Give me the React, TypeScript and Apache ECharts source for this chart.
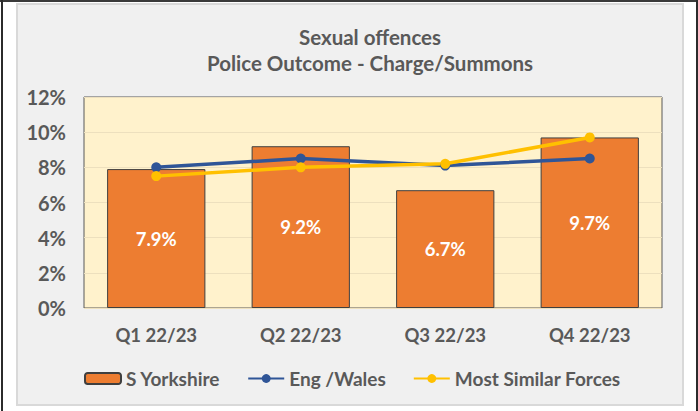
import React, { useEffect, useRef } from 'react';
import * as echarts from 'echarts';

const categories = ['Q1 22/23', 'Q2 22/23', 'Q3 22/23', 'Q4 22/23'];
const sYorkshire = [7.9, 9.2, 6.7, 9.7];
const engWales = [8.0, 8.5, 8.1, 8.5];
const mostSimilar = [7.5, 8.0, 8.2, 9.7];
const titleLines = ['Sexual offences', 'Police Outcome - Charge/Summons'];
const seriesNames = ['S Yorkshire', 'Eng /Wales', 'Most Similar Forces'];

const FONT = 'Lato, "Open Sans", sans-serif';
const GREY = '#595959';

export default function App() {
  const ref = useRef<HTMLDivElement>(null);
  useEffect(() => {
    if (!ref.current) return;
    const chart = echarts.init(ref.current, undefined, { renderer: 'svg' });
    chart.setOption({
      animation: false,
      backgroundColor: '#ffffff',
      textStyle: { fontFamily: FONT },
      graphic: [
        { type: 'rect', z: -20, shape: { x: 0, y: 0, width: 698, height: 2 }, style: { fill: '#3a3a3a' } },
        { type: 'rect', z: -20, shape: { x: 1, y: 0, width: 2, height: 411 }, style: { fill: '#2b2b2b' } },
        { type: 'rect', z: -20, shape: { x: 696, y: 0, width: 2, height: 411 }, style: { fill: '#2b2b2b' } },
        { type: 'rect', z: -19, shape: { x: 17, y: 4, width: 666, height: 401 }, style: { fill: '#F0F0F0', stroke: '#D9D9D9', lineWidth: 2 } },
        { type: 'text', z: 10, x: 370, y: 37, style: { text: titleLines[0], fontFamily: FONT, fontSize: 20.5, fontWeight: 'bold', fill: GREY, textAlign: 'center', textVerticalAlign: 'middle' } },
        { type: 'text', z: 10, x: 370, y: 63, style: { text: titleLines[1], fontFamily: FONT, fontSize: 20.5, fontWeight: 'bold', fill: GREY, textAlign: 'center', textVerticalAlign: 'middle' } },
      ],
      grid: {
        left: 84, top: 97, right: 36, bottom: 103,
        show: true, backgroundColor: '#FFF2CC', borderColor: '#595959', borderWidth: 1,
      },
      legend: {
        top: 369,
        left: 84,
        padding: 0,
        itemWidth: 36,
        itemHeight: 11,
        itemGap: 27,
        textStyle: { fontFamily: FONT, fontSize: 19, fontWeight: 'bold', color: GREY },
        data: seriesNames,
      },
      xAxis: {
        type: 'category',
        data: categories,
        axisLine: { show: false },
        axisTick: { show: false },
        axisLabel: { color: GREY, fontFamily: FONT, fontSize: 18.5, fontWeight: 'bold', margin: 17 },
      },
      yAxis: {
        type: 'value',
        min: 0, max: 12, interval: 2,
        axisLine: { show: false },
        axisTick: { show: false },
        splitLine: { lineStyle: { color: '#EDE0BE', width: 1 } },
        axisLabel: { color: GREY, fontFamily: FONT, fontSize: 20, fontWeight: 'bold', margin: 18, formatter: '{value}%' },
      },
      series: [
        {
          name: seriesNames[0], type: 'bar', data: sYorkshire, barWidth: '68%',
          itemStyle: { color: '#ED7D31', borderColor: '#3F3F3F', borderWidth: 1 },
          label: { show: true, position: 'inside', color: '#ffffff', fontFamily: FONT, fontSize: 18.5, fontWeight: 'bold', formatter: '{c}%' },
        },
        {
          name: seriesNames[1], type: 'line', data: engWales, symbol: 'circle', symbolSize: 10,
          lineStyle: { color: '#2F5597', width: 3.5 }, itemStyle: { color: '#2F5597' },
        },
        {
          name: seriesNames[2], type: 'line', data: mostSimilar, symbol: 'circle', symbolSize: 10,
          lineStyle: { color: '#FFC000', width: 3.5 }, itemStyle: { color: '#FFC000' },
        },
      ],
    });
    return () => chart.dispose();
  }, []);
  return <div ref={ref} style={{ position: 'absolute', left: 0, top: 0, width: 698, height: 411 }} />;
}
